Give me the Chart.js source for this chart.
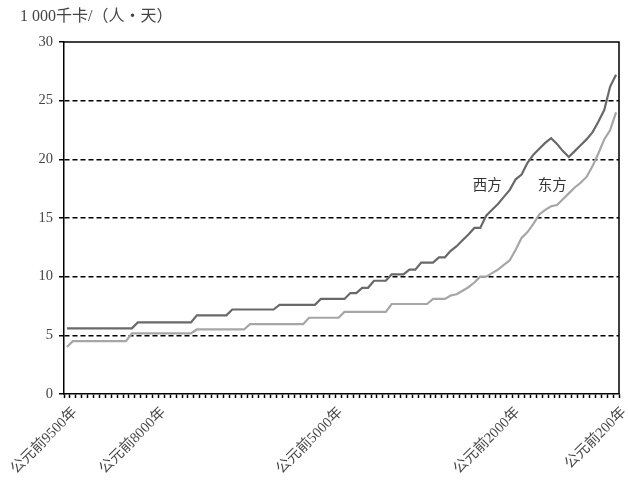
<!DOCTYPE html>
<html>
<head>
<meta charset="utf-8">
<script src="https://cdn.jsdelivr.net/npm/chart.js"></script>
<style>
  html, body { margin: 0; padding: 0; background: #fff; }
  #wrap { width: 628px; height: 484px; }
</style>
</head>
<body>
<div id="wrap"><canvas id="chart" width="628" height="484"></canvas></div>
<script>
// Daily energy capture, 1 000 kcal per person per day, every century 9500 BC .. 200 BC
const firstYear = 9500;
const lastYear = 200;
const shownYears = [9500, 8000, 5000, 2000, 200];

const westValues = [
  5.6, 5.6, 5.6, 5.6, 5.6, 5.6, 5.6, 5.6, 5.6, 5.6, 5.6, 5.6,
  6.1, 6.1, 6.1, 6.1, 6.1, 6.1, 6.1, 6.1, 6.1, 6.1,
  6.7, 6.7, 6.7, 6.7, 6.7, 6.7,
  7.2, 7.2, 7.2, 7.2, 7.2, 7.2, 7.2, 7.2,
  7.6, 7.6, 7.6, 7.6, 7.6, 7.6, 7.6,
  8.1, 8.1, 8.1, 8.1, 8.1,
  8.6, 8.6,
  9.05, 9.05,
  9.65, 9.65, 9.65,
  10.2, 10.2, 10.2,
  10.6, 10.6,
  11.2, 11.2, 11.2,
  11.65, 11.65,
  12.2, 12.6, 13.1, 13.6, 14.15, 14.15, 15.2, 15.7, 16.2, 16.8, 17.4, 18.3, 18.7, 19.7,
  20.4, 20.9, 21.4, 21.8, 21.3, 20.7, 20.2, 20.7, 21.2, 21.7, 22.3, 23.2, 24.2, 26.2, 27.2
];

const eastValues = [
  4.0,
  4.5, 4.5, 4.5, 4.5, 4.5, 4.5, 4.5, 4.5, 4.5, 4.5,
  5.17, 5.17, 5.17, 5.17, 5.17, 5.17, 5.17, 5.17, 5.17, 5.17, 5.17,
  5.5, 5.5, 5.5, 5.5, 5.5, 5.5, 5.5, 5.5, 5.5,
  5.95, 5.95, 5.95, 5.95, 5.95, 5.95, 5.95, 5.95, 5.95, 5.95,
  6.5, 6.5, 6.5, 6.5, 6.5, 6.5,
  7.0, 7.0, 7.0, 7.0, 7.0, 7.0, 7.0, 7.0,
  7.67, 7.67, 7.67, 7.67, 7.67, 7.67, 7.67,
  8.1, 8.1, 8.1,
  8.4,
  8.5, 8.8, 9.1, 9.5, 10.0, 10.0, 10.3, 10.6, 11.0, 11.4, 12.3, 13.3, 13.8, 14.5,
  15.3, 15.7, 16.0, 16.1, 16.6, 17.1, 17.6, 18.0, 18.5, 19.4, 20.5, 21.7, 22.5, 24.0
];

const seriesNames = ['西方', '东方'];
const nameAt = [[71.2, 17.67], [82.2, 17.67]]; // [category index, value] for the in-chart labels
const yTitle = '1 000千卡/（人・天）';

// categories: one per century
const years = [];
for (let y = firstYear; y >= lastYear; y -= 100) years.push(y);
const categories = years.map(y => shownYears.includes(y) ? '公元前' + y + '年' : '');

const serif = "'Liberation Serif', 'Times New Roman', 'Noto Sans CJK SC', serif";

// frame, unit title and series names
const extrasPlugin = {
  id: 'extras',
  afterDraw(chart) {
    const { ctx, chartArea: a, scales } = chart;
    ctx.save();
    ctx.strokeStyle = '#000';
    ctx.lineWidth = 1.5;
    ctx.beginPath();
    ctx.moveTo(a.left, a.top);
    ctx.lineTo(a.right, a.top);
    ctx.lineTo(a.right, a.bottom);
    ctx.stroke();

    ctx.fillStyle = '#444';
    ctx.font = '16px ' + serif;
    ctx.textAlign = 'left';
    ctx.textBaseline = 'middle';
    ctx.fillText(yTitle, 20, 17);

    ctx.font = '14.5px ' + serif;
    ctx.textAlign = 'center';
    ctx.fillStyle = '#333';
    seriesNames.forEach((name, i) => {
      const x = scales.x.getPixelForValue(nameAt[i][0]);
      const y = scales.y.getPixelForValue(nameAt[i][1]);
      ctx.fillText(name, x, y);
    });
    ctx.restore();
  }
};

new Chart(document.getElementById('chart'), {
  type: 'line',
  data: {
    labels: categories,
    datasets: [
      {
        label: seriesNames[0],
        data: westValues,
        borderColor: '#696969',
        borderWidth: 2.2,
        pointRadius: 0,
        tension: 0,
        fill: false
      },
      {
        label: seriesNames[1],
        data: eastValues,
        borderColor: '#a6a6a6',
        borderWidth: 2.2,
        pointRadius: 0,
        tension: 0,
        fill: false
      }
    ]
  },
  options: {
    responsive: false,
    animation: false,
    layout: { padding: { left: 0, right: 9, top: 42, bottom: 0 } },
    plugins: {
      legend: { display: false },
      tooltip: { enabled: false }
    },
    scales: {
      x: {
        offset: true,
        afterFit: (s) => {
          s.height = 90;
          s.paddingLeft = 0;
          s.paddingRight = 0;
        },
        grid: {
          offset: true,
          drawOnChartArea: false,
          drawTicks: true,
          tickLength: 4,
          tickColor: '#000',
          tickWidth: 1.5
        },
        border: { display: true, color: '#000', width: 1.5 },
        ticks: {
          autoSkip: false,
          minRotation: 45,
          maxRotation: 45,
          padding: 6,
          labelOffset: 8,
          color: '#444',
          font: { family: serif, size: 14.5 }
        }
      },
      y: {
        min: 0,
        max: 30,
        afterFit: (s) => {
          s.width = 64;
          s.paddingTop = 0;
          s.paddingBottom = 0;
        },
        grid: {
          color: (c) => (c.tick && (c.tick.value === 0 || c.tick.value === 30)) ? 'rgba(0,0,0,0)' : '#000',
          lineWidth: 1.5,
          tickColor: '#000',
          tickLength: 5,
          tickWidth: 1.5
        },
        border: { display: true, color: '#000', width: 1.5, dash: [5, 3] },
        ticks: {
          stepSize: 5,
          padding: 6,
          color: '#444',
          font: { family: serif, size: 14.5 }
        }
      }
    }
  },
  plugins: [extrasPlugin]
});
</script>
</body>
</html>
